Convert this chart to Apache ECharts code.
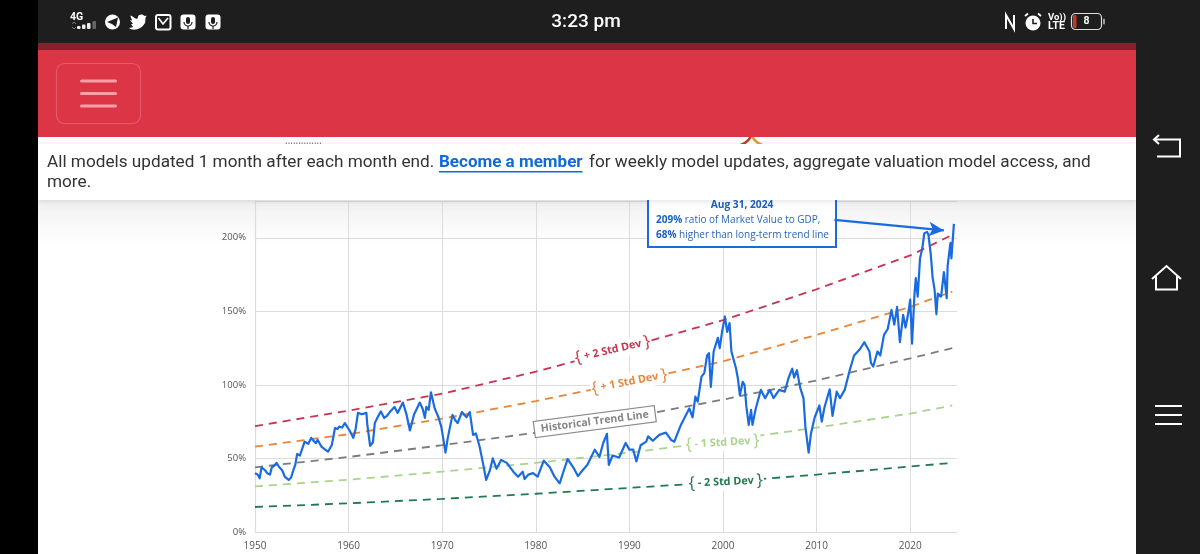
<!DOCTYPE html>
<html><head><meta charset="utf-8">
<style>html,body{margin:0;padding:0;background:#fff}#c{width:1200px;height:554px}</style>
<script src="https://cdn.jsdelivr.net/npm/echarts@6/dist/echarts.min.js"></script></head>
<body><div id="c"></div>
<script>
const dates=[1950,1950.3,1950.5,1950.7,1951.07,1951.3,1951.6,1951.8,1952.05,1952.3,1952.6,1952.9,1953.2,1953.6,1953.85,1954.1,1954.3,1954.5,1954.8,1955,1955.3,1955.7,1956,1956.25,1956.5,1956.7,1957.1,1957.5,1957.8,1958.2,1958.55,1958.8,1959,1959.3,1959.6,1959.8,1960.1,1960.5,1960.75,1961,1961.4,1961.9,1962,1962.3,1962.6,1962.8,1963.1,1963.45,1963.8,1964.1,1964.4,1964.9,1965.25,1965.8,1966.2,1966.55,1966.75,1967,1967.3,1967.6,1967.9,1968.15,1968.3,1968.55,1968.8,1969.2,1969.6,1969.9,1970.1,1970.35,1970.6,1971.1,1971.4,1971.65,1972.1,1972.6,1972.95,1973.3,1973.6,1974,1974.35,1974.7,1975.1,1975.4,1975.8,1976.3,1976.9,1977.6,1978.1,1978.6,1978.8,1979.2,1979.7,1980.2,1980.85,1981.5,1982,1982.55,1983,1983.4,1984,1984.5,1985,1985.5,1986.3,1986.8,1987.2,1987.6,1987.8,1988.2,1988.9,1989.6,1990,1990.4,1990.75,1991.2,1991.8,1992,1992.5,1993.2,1993.9,1994.45,1994.8,1995.5,1996.4,1996.75,1997.05,1997.3,1997.7,1998,1998.3,1998.5,1998.7,1999,1999.45,1999.65,1999.9,2000.2,2000.45,2000.7,2000.9,2001.4,2001.6,2001.8,2002.1,2002.3,2002.5,2002.75,2003,2003.15,2003.5,2004.05,2004.5,2005,2005.4,2006,2006.6,2007,2007.4,2007.6,2007.9,2008.25,2008.6,2008.8,2009.15,2009.4,2009.8,2010.3,2010.55,2010.85,2011.4,2011.7,2012.15,2012.5,2013,2013.5,2014,2014.6,2015.1,2015.65,2015.8,2016.05,2016.5,2016.8,2017.2,2017.6,2018,2018.3,2018.6,2018.9,2019.25,2019.5,2019.8,2020,2020.2,2020.45,2020.6,2020.8,2021.05,2021.3,2021.5,2021.8,2021.95,2022.2,2022.4,2022.6,2022.8,2022.95,2023.3,2023.6,2023.9,2024,2024.3,2024.4,2024.67];
const ratio=[40,39,36.5,44,42,40,39,44,45,47,44,42,37.5,35.4,37,42,45.6,53,52,53,61.4,60,64,62,60.4,62.6,58,56,54.6,59,70.7,70,71.6,71,74,73,69,64,70,81,80,81,73,58.5,61,74,78,82,77.5,79,81.5,85,81,88,79.6,69,70,80,84,88,84,77.6,85,83,95,84,78,71.6,64,54,64,79.6,76,74,81.5,78,81.5,66,67,58,47,35.4,42,50,43,49,47,41,37.6,41,36,39,40,37.6,48.5,44,37.6,33,42,49.6,44,38,42,45.6,56,51,60.5,66.7,45.6,52,50.6,60.5,56,56,48,59,61.4,65,62,66,67.6,62.6,61.4,72.8,84,78,92,88.6,105.6,108,120,121.6,98.6,122.7,132,125,136,146.5,136,142,122.7,111,104,93,102,100,85,72.8,83,72.8,84,96.6,91,96.6,91,96.6,95.4,104.7,111,105,110,98,91,71.6,54,67,78,86,75,85,97,79,95.4,91,96.6,109,120,124,129,122.7,115,112.5,122.7,120,134,138,151,141,153,129,147.6,139,149,158,128,161,172.6,160,186,193,203,204,202,188.6,172.6,165,148,162,160,176.6,159,181,196.6,186,209.5];
const trendYears=[1950,1960,1970,1980,1990,2000,2010,2020,2024.5];
const plus2=[72,82.5,94,109,126,144,165,188,202];
const plus1=[58,66.5,77,89,102,116,134,153,163.5];
const trend=[44,51,59,67.5,78,90,103,118,125];
const minus1=[31,35.5,41,47,54,62,71,80.5,86];
const minus2=[17,19.5,22.5,26,30,34,39,44.5,47];
const xTicks=[1950,1960,1970,1980,1990,2000,2010,2020];
const yTicks=[0,50,100,150,200];

const zip=(a,b)=>a.map((v,i)=>[v,b[i]]);
const BLUE='#1a6be0', LABEL='"Open Sans","Noto Sans",sans-serif';
function band(name,vals,color,lbl){
  return {name,type:'line',data:zip(trendYears,vals),showSymbol:false,silent:true,z:3,
    lineStyle:{color,width:1.8,type:[8,6]},
    markPoint:lbl?{symbol:'circle',symbolSize:0,silent:true,z:4,data:[{coord:lbl.at,
      label:{show:true,position:'inside',rotate:lbl.rot,color,fontFamily:LABEL,fontSize:17,fontWeight:'normal',
        backgroundColor:'#fff',padding:[0,1],
        formatter:'{{t| '+lbl.text+' }}',
        rich:{t:{color,fontFamily:LABEL,fontSize:10.8,fontWeight:'bold'}}}}]}:undefined};
}
const g=[];
const rect=(x,y,w,h,fill,z,r,extra)=>g.push({type:'rect',silent:true,z:z||100,shape:{x,y,width:w,height:h,r:r||0},style:Object.assign({fill},extra||{})});
const text=(x,y,t,st,z)=>g.push({type:'text',silent:true,z:z||110,x,y,style:Object.assign({text:t,fill:'#fff',textVerticalAlign:'middle'},st)});
const poly=(pts,st,z)=>g.push({type:'polyline',silent:true,z:z||110,shape:{points:pts},style:Object.assign({fill:'none',stroke:'#fff',lineWidth:2},st||{})});
const circ=(cx,cy,r,st,z)=>g.push({type:'circle',silent:true,z:z||110,shape:{cx,cy,r},style:Object.assign({fill:'#fff'},st||{})});

// page background shading below the notice
g.push({type:'rect',silent:true,z:-1,shape:{x:38,y:200,width:1098,height:44},style:{fill:{type:'linear',x:0,y:0,x2:0,y2:1,colorStops:[{offset:0,color:'#f1f1f1'},{offset:1,color:'#ffffff'}]}}});

// annotation box
rect(648,186,188,61,'#fff',20,0,{stroke:BLUE,lineWidth:2});
text(742,205,'Aug 31, 2024',{fill:'#1a5fc0',font:'bold 10.2px '+LABEL,textAlign:'center'},21);
g.push({type:'text',silent:true,z:21,x:656,y:220,style:{text:'{b|209%} ratio of Market Value to GDP,',fill:'#2a66b8',font:'10px '+LABEL,textVerticalAlign:'middle',rich:{b:{fill:'#1a5fc0',font:'bold 10px '+LABEL}}}});
g.push({type:'text',silent:true,z:21,x:656,y:235,style:{text:'{b|68%} higher than long-term trend line',fill:'#2a66b8',font:'10px '+LABEL,textVerticalAlign:'middle',rich:{b:{fill:'#1a5fc0',font:'bold 10px '+LABEL}}}});

// frame of the screenshot
rect(38,137,1098,8,'#fff',90);
text(285,141,'..............',{fill:'#5a7a9a',font:'10px '+LABEL},91);
g.push({type:'arc',silent:true,z:91,shape:{cx:735,cy:128,r:18,startAngle:0.4,endAngle:1.6},style:{fill:'none',stroke:'#b5452a',lineWidth:2.5}});
g.push({type:'arc',silent:true,z:91,shape:{cx:768,cy:128,r:18,startAngle:1.6,endAngle:2.8},style:{fill:'none',stroke:'#d9a13a',lineWidth:2.5}});
rect(38,144,1098,56,'#fff',100,0,{shadowBlur:6,shadowColor:'rgba(0,0,0,0.12)',shadowOffsetY:1});
rect(0,0,38,554,'#000',120);
rect(1136,0,64,554,'#1e1e1e',120);
rect(38,0,1098,43,'#1e1e1e',120);
rect(38,43,1098,7,'#8b1f2c',120);
rect(38,50,1098,87,'#dc3545',120);
rect(56.5,63.5,84,60,'#dc3545',121,8,{stroke:'#e6596a',lineWidth:1.2});
[81,93.5,106].forEach(y=>rect(80,y-1.5,37,3,'#fa9fa9',122,1.5));

// notice text
const N='17.2px Roboto,"Noto Sans",sans-serif';
text(47,162.5,'All models updated 1 month after each month end.',{fill:'#333',font:N},125);
text(439,162.5,'Become a member',{fill:'#0d6ad8',font:'bold 17px Roboto,"Noto Sans",sans-serif'},125);
rect(439,171,143.5,1.6,'#0d6ad8',125);
text(589,162.5,'for weekly model updates, aggregate valuation model access, and',{fill:'#333',font:N},125);
text(47,182.5,'more.',{fill:'#333',font:N},125);

// status bar
text(586,22,'3:23 pm',{font:'500 19px Roboto,sans-serif',textAlign:'center'},130);
text(70,17,'4G',{font:'bold 10.5px Roboto,sans-serif'},130);
[[77,3],[82,4.5],[87,6],[92.5,8]].forEach(([x,h],i)=>rect(x,30-h-1,3.5,h,i==3?'#666':'#eee',130,1));
poly([[72,24],[74,22],[76,24]],{stroke:'#777',lineWidth:1},130);
poly([[72,27],[74,29],[76,27]],{stroke:'#777',lineWidth:1},130);
circ(112.5,22,7.5,{},130);
g.push({type:'polygon',silent:true,z:131,shape:{points:[[107,22],[118,17.5],[116,27],[112,24]]},style:{fill:'#1e1e1e'}});
g.push({type:'polygon',silent:true,z:130,shape:{points:[[129,28],[133,27],[131,24],[133,24],[130,20],[132,20.5],[130.5,15.500],[137,19],[138.5,15.5],[142,14.5],[145,16],[146.500,15.500],[145.500,18],[145,23],[141,27.5],[136,29.5],[132,29.5]],smooth:0.2},style:{fill:'#fff'}});
rect(156,15,14.5,14.5,'#1e1e1e',130,2,{stroke:'#fff',lineWidth:2});
poly([[158.5,18],[163,24],[168,18]],{lineWidth:1.6},131);
[188,213].forEach(x=>{rect(x-7.5,14.5,15,15,'#fff',130,3);
  rect(x-2,17,4,7,'#1e1e1e',131,2);
  g.push({type:'arc',silent:true,z:131,shape:{cx:x,cy:22,r:4,startAngle:0,endAngle:Math.PI},style:{fill:'none',stroke:'#1e1e1e',lineWidth:1.2}});
  rect(x-.6,26,1.2,3,'#1e1e1e',131);});
poly([[1006,29],[1006,15],[1014,29],[1014,15]],{lineWidth:2},130);
circ(1033,23,7.5,{},130);
poly([[1033,19],[1033,23.5],[1037,23.5]],{stroke:'#1e1e1e',lineWidth:1.6},131);
poly([[1025,16],[1028,13.5]],{lineWidth:1.8},130);poly([[1038,13.5],[1041,16]],{lineWidth:1.8},130);
text(1048,18,'Vo))',{font:'bold 9.5px Roboto,sans-serif'},130);
text(1048,26.5,'LTE',{font:'bold 10.5px Roboto,sans-serif'},130);
rect(1071.5,13.5,30,16,'#1e1e1e',130,4,{stroke:'#ddd',lineWidth:1.2});
rect(1073,15,3.5,13,'#c0392b',131,1);
rect(1103,18.5,2,6,'#999',130,1);
text(1086.5,21.5,'8',{font:'bold 10.5px Roboto,sans-serif',textAlign:'center'},131);

// side navigation
poly([[1159,135],[1154,139.500],[1159,144]],{lineWidth:2},130);
poly([[1154,139.5],[1180,139.5],[1180,156.5],[1157,156.5]],{lineWidth:2},130);
poly([[1152,279],[1166.500,266],[1181,279]],{lineWidth:2},130);
poly([[1156,275],[1156,289.5],[1177,289.5],[1177,275]],{lineWidth:2},130);
[406,415,424].forEach(y=>rect(1155,y-1,27,2,'#fff',130));

const chart=echarts.init(document.getElementById('c'),null,{renderer:'canvas'});
chart.setOption({
  animation:false,backgroundColor:'#fff',
  grid:{left:255,right:243,top:201,bottom:22,containLabel:false},
  xAxis:{type:'value',min:1950,max:2025,interval:10,
    axisLine:{show:true,lineStyle:{color:'#dcdcdc',width:1.2}},axisTick:{show:false},
    splitLine:{show:true,showMaxLine:false,lineStyle:{color:'#dcdcdc',width:1}},
    axisLabel:{color:'#555',fontSize:10,fontFamily:LABEL,margin:9,showMaxLabel:false,formatter:v=>xTicks.includes(v)?String(v):''}},
  yAxis:{type:'value',min:0,max:225,interval:50,
    axisLine:{show:true,lineStyle:{color:'#dcdcdc',width:1.2}},axisTick:{show:false},
    splitLine:{show:true,lineStyle:{color:'#dcdcdc',width:1}},
    axisLabel:{color:'#555',fontSize:9.5,fontFamily:LABEL,margin:9,formatter:v=>yTicks.includes(v)?v+'%':''}},
  series:[
    band('+2 Std Dev',plus2,'#c8344e',{at:[1988.2,123.8],rot:13,text:'+ 2 Std Dev'}),
    band('+1 Std Dev',plus1,'#e8853a',{at:[1990,102],rot:11,text:'+ 1 Std Dev'}),
    Object.assign(band('Historical Trend Line',trend,'#7c7c7c'),{markPoint:{symbol:'circle',symbolSize:0,silent:true,z:4,data:[{coord:[1986.3,75],
      label:{show:true,position:'inside',rotate:7.5,formatter:'Historical Trend Line',color:'#858585',fontFamily:LABEL,fontSize:10.5,fontWeight:'bold',backgroundColor:'#fff',borderColor:'#8a8a8a',borderWidth:1.2,padding:[2,6]}}]}}),
    band('-1 Std Dev',minus1,'#a8d48c',{at:[1999.95,60.7],rot:3.5,text:'- 1 Std Dev'}),
    band('-2 Std Dev',minus2,'#1f7a4d',{at:[2000.3,34],rot:2.5,text:'- 2 Std Dev'}),
    {name:'Market Value to GDP',type:'line',data:zip(dates,ratio),showSymbol:false,silent:true,z:5,
      lineStyle:{color:BLUE,width:2.2,join:'round'},
      markLine:{silent:true,symbol:['none','arrow'],symbolSize:[11,15],z:30,label:{show:false},
        lineStyle:{color:BLUE,width:2.4,type:'solid'},
        data:[[{coord:[2011.9,212.2]},{coord:[2023.6,205]}]]}}
  ],
  graphic:{elements:g}
});
</script></body></html>
